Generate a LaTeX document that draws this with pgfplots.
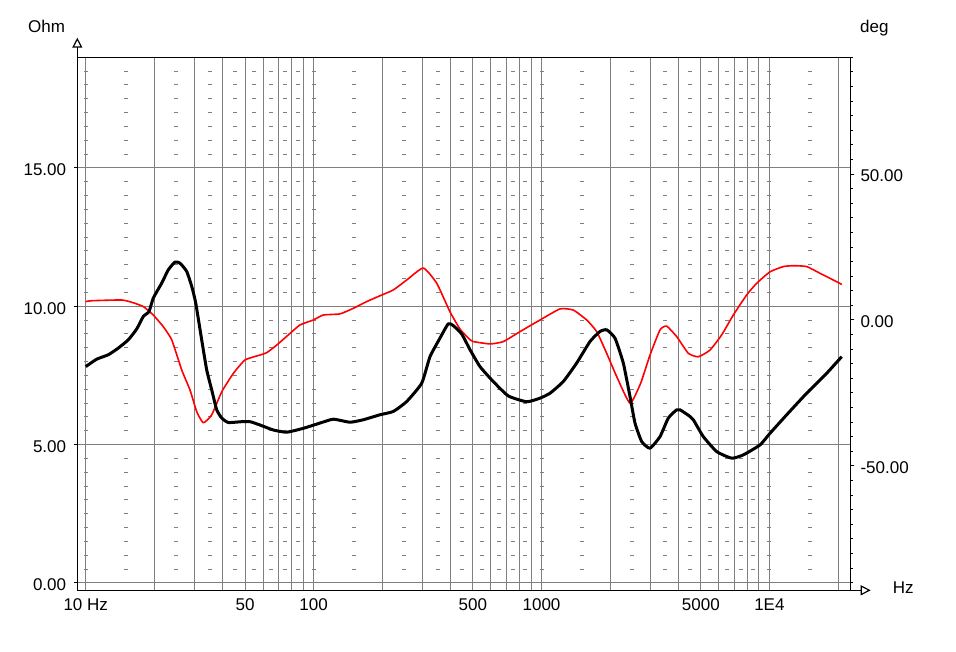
\documentclass[border=0pt]{standalone}
\usepackage{fontspec}
\setmainfont{Liberation Sans}
\usepackage{pgfplots}
\usepackage{pgfplotstable}
\pgfplotsset{compat=1.18}
\usetikzlibrary{arrows.meta}
\definecolor{gridgray}{RGB}{128,128,128}

\pgfplotstableread{
f z
10 7.82
11.18 8.09
12.57 8.25
13.90 8.49
15.38 8.79
16.74 9.18
17.89 9.63
18.96 9.81
19.80 10.30
21.56 10.84
23.04 11.32
24.65 11.60
25.93 11.56
27.75 11.26
29.19 10.72
30.39 10.12
32.28 8.79
33.96 7.70
35.72 6.98
37.57 6.26
39.53 5.96
42.25 5.80
48.36 5.83
52.60 5.83
58.19 5.71
66.56 5.53
76.21 5.45
90.10 5.59
106.7 5.78
122.0 5.92
144.4 5.81
165.2 5.90
195.6 6.08
223.8 6.20
256.2 6.56
298.1 7.22
324.1 8.18
358.5 8.85
389.9 9.37
410.2 9.30
446.5 9.00
485.8 8.43
537.3 7.82
614.4 7.28
715.2 6.76
861.0 6.55
984.9 6.68
1090 6.86
1246 7.28
1427 7.95
1633 8.73
1806 9.09
1932 9.15
2101 8.85
2285 7.95
2445 6.74
2572 5.78
2752 5.11
2993 4.87
3311 5.29
3601 5.96
3920 6.26
4053 6.26
4483 6.02
4636 5.90
5129 5.29
5870 4.75
6833 4.51
7685 4.63
9093 4.99
10060 5.41
11910 6.08
14580 6.86
17840 7.58
20760 8.18
}\impedance

\pgfplotstableread{
f p
10 6.3
10.62 6.6
14.39 6.85
16.18 5.9
17.89 4.6
19.80 1.7
21.90 -2.3
23.85 -6.8
26.38 -17.1
28.69 -24.0
30.70 -31.4
32.81 -35.2
35.72 -32.5
39.53 -24.6
44.44 -18.3
50.0 -13.7
58.19 -12.0
62.27 -11.2
68.88 -8.6
78.78 -4.6
87.14 -1.7
99.7 0
110.3 1.7
130.6 2.1
149.4 4.0
171.0 6.3
195.6 8.3
223.8 10.3
256.2 13.7
302.9 17.8
346.8 12.6
396.8 2.8
439.0 -3.1
485.8 -6.8
502 -7.4
594.3 -8.2
679.8 -7.4
804.4 -4.0
984.9 0
1206 3.8
1379 3.4
1579 0
1747 -4.0
1932 -11.4
2138 -19.4
2445 -28.5
2722 -21.7
2993 -12.0
3311 -3.4
3543 -2.1
3920 -5.7
4406 -11.4
4875 -12.6
5488 -10.3
6176 -5.1
6944 1.7
7953 8.6
8799 12.6
10060 16.5
11510 18.3
12730 18.6
14580 18.3
16670 16.0
19070 13.7
20760 12.2
}\phase

\pgfplotsset{
  myframe/.style={at={(77.3pt,61.7pt)}, anchor=south west, scale only axis,
    width=773pt, height=533pt, xmin=9.186, xmax=22646,
    tick label style={font=\fontsize{17}{20}\selectfont}},
}

\begin{document}
\fontsize{17}{20}\selectfont
\begin{tikzpicture}
\path[use as bounding box] (0,0) rectangle (956pt,652pt);
% grid, frame, x labels
\begin{axis}[xmode=log, myframe, ymin=-0.264, ymax=19,
  axis line style={black, line width=1.2pt},
  xtick={10,20,30,40,50,60,70,80,90,100,200,300,400,500,600,700,800,900,1000,2000,3000,4000,5000,6000,7000,8000,9000,10000,20000},
  xticklabels={10 Hz,{},{},{},50,{},{},{},{},100,{},{},{},500,{},{},{},{},1000,{},{},{},5000,{},{},{},{},1E4,{}},
  minor xtick={10,15,25,35,45,55,65,75,85,100,150,250,350,450,550,650,750,850,1000,1500,2500,3500,4500,5500,6500,7500,8500,10000,15000},
  ytick={0,5,10,15}, yticklabels={0.00,5.00,10.00,15.00},
  tick style={draw=none},
  xmajorgrids, xminorgrids, ymajorgrids,
  major grid style={gridgray, line width=1pt},
  minor grid style={gridgray, line width=4pt, dash pattern=on 1pt off 12.834pt, dash phase=7.029pt},
  xticklabel style={anchor=north, inner sep=0pt, yshift=-8pt},
  yticklabel style={anchor=east, inner sep=0pt, xshift=-11pt, yshift=-2pt},
]
\end{axis}
% phase axis (right)
\begin{axis}[xmode=log, myframe, ymin=-92.6, ymax=90,
  axis x line=none, axis y line*=right, y axis line style={draw=none},
  ytick={-50,0,50}, yticklabels={-50.00,0.00,50.00},
  minor ytick={-90,-85,-80,-75,-70,-65,-60,-55,-45,-40,-35,-30,-25,-20,-15,-10,-5,5,10,15,20,25,30,35,40,45,55,60,65,70,75,80,85,90},
  tick align=outside, major tick length=4pt, minor tick length=2.5pt,
  tick style={black, line width=1pt},
  yticklabel style={anchor=west, inner sep=0pt, xshift=6pt, yshift=-2pt},
]
\addplot[red, line width=1.6pt, line join=round, smooth, tension=0.3] table[x=f, y=p] {\phase};
\end{axis}
% impedance axis (left ticks + black curve)
\begin{axis}[xmode=log, myframe, ymin=-0.264, ymax=19,
  axis x line=none, axis y line*=left, y axis line style={draw=none},
  ytick={0,5,10,15}, yticklabels={,,,},
  tick align=outside, major tick length=3.5pt,
  tick style={black, line width=1pt},
]
\addplot[black, line width=3pt, line join=round, smooth, tension=0.3] table[x=f, y=z] {\impedance};
\end{axis}
\draw[line width=1.2pt, -{Triangle[open,length=10pt,width=10pt]}] (77.3pt,594.7pt) -- (77.3pt,614.3pt);
\draw[line width=1.2pt, -{Triangle[open,length=10pt,width=10pt]}] (850.3pt,61.7pt) -- (870.7pt,61.7pt);
\node[anchor=base west, inner sep=0pt] at (28pt,619.7pt) {Ohm};
\node[anchor=base west, inner sep=0pt] at (860pt,619.7pt) {deg};
\node[anchor=base west, inner sep=0pt] at (892.7pt,58pt) {Hz};
\end{tikzpicture}
\end{document}
